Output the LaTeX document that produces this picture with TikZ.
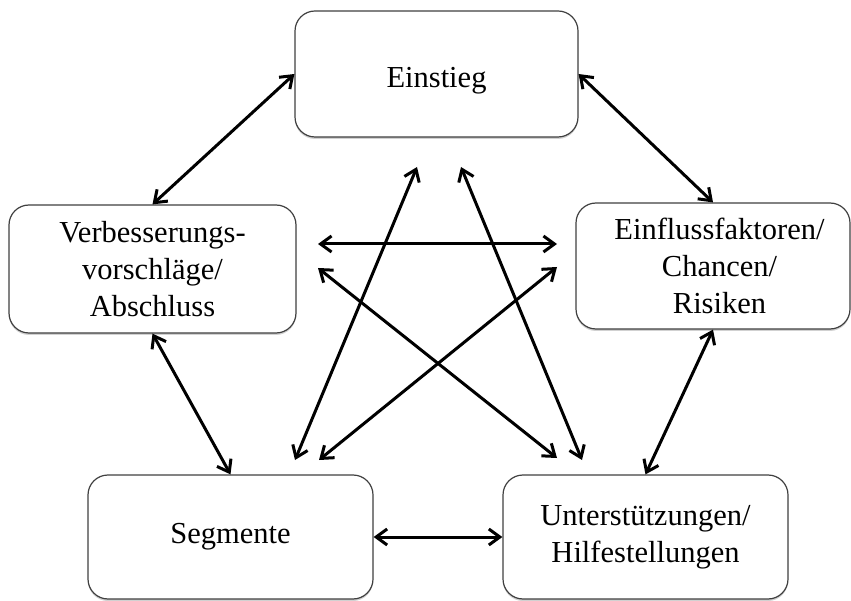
\documentclass[tikz,border=0pt]{standalone}
\usepackage{fontspec}
\setmainfont{Liberation Serif}
\usetikzlibrary{arrows.meta,shadows}
\begin{document}
\begin{tikzpicture}[x=1pt,y=-1pt,
  box/.style={draw=black!75, line width=1.2pt, rounded corners=20pt, fill=white,
    align=center, inner sep=0pt, font=\fontsize{30.5}{37}\selectfont,
    drop shadow={shadow xshift=0pt, shadow yshift=-2pt, opacity=0.18, fill=black}},
  link/.style={line width=3pt, {Straight Barb[length=11pt,width=16pt]}-{Straight Barb[length=11pt,width=16pt]}}
]
\useasboundingbox (0,0) rectangle (851,601);
\node[box, minimum width=283pt, minimum height=126pt, text height=35pt, text depth=7pt] (ein) at (436.5,74) {Einstieg};
\node[box, minimum width=287pt, minimum height=128pt] (verb) at (152.5,269) {Verbesserungs-\\vorschläge/\\Abschluss};
\node[box, minimum width=274pt, minimum height=126pt] (einf) at (713,266) {\hspace*{13pt}Einflussfaktoren/\\\hspace*{13pt}Chancen/\\\hspace*{13pt}Risiken};
\node[box, minimum width=285pt, minimum height=124pt] (seg) at (230.5,537) {Segmente};
\node[box, minimum width=285pt, minimum height=124pt] (unt) at (645.5,537) {Unterstützungen/\\Hilfestellungen};

% free ends of the inner connectors
\coordinate (vR1) at (318,244);
\coordinate (eL1) at (557,244);
\coordinate (vR2) at (318,268);
\coordinate (uT1) at (557,458);
\coordinate (eL2) at (557,267);
\coordinate (sT1) at (319,460);
\coordinate (iB1) at (417,167);
\coordinate (sT2) at (295,460);
\coordinate (iB2) at (461,167);
\coordinate (uT2) at (582,460);

\draw[link] (ein.west) -- (verb.north);
\draw[link] (ein.east) -- (einf.north);
\draw[link] (verb.south) -- (seg.north);
\draw[link] (einf.south) -- (unt.north);
\draw[link] (seg.east) -- (unt.west);
\draw[link] (vR1) -- (eL1);
\draw[link] (vR2) -- (uT1);
\draw[link] (eL2) -- (sT1);
\draw[link] (iB1) -- (sT2);
\draw[link] (iB2) -- (uT2);
\end{tikzpicture}
\end{document}
